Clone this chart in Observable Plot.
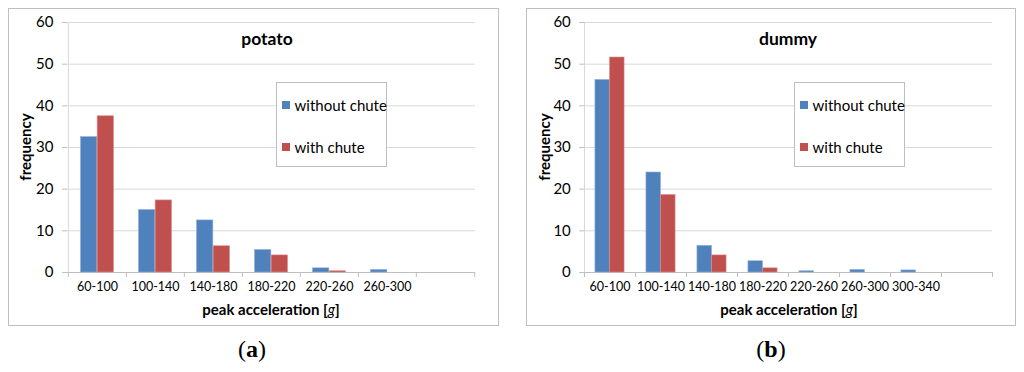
<!DOCTYPE html>
<html><head><meta charset="utf-8">
<script src="https://cdn.jsdelivr.net/npm/d3@7"></script>
<script src="https://cdn.jsdelivr.net/npm/@observablehq/plot@0.6"></script>
<style>
body{margin:0;background:#fff;}
#root{position:relative;width:1024px;height:372px;overflow:hidden;font-family:Lato,"Open Sans",sans-serif;color:#000;}
.panel{position:absolute;border:1px solid #bfbfbf;box-sizing:border-box;pointer-events:none;}
.chart{position:absolute;top:0;}
.title{position:absolute;transform:translate(-50%,-50%);font-weight:bold;font-size:17.5px;white-space:nowrap;}
.xlabel{position:absolute;transform:translate(-50%,-50%);font-weight:bold;font-size:15px;white-space:nowrap;}
.ylabel{position:absolute;transform:translate(-50%,-50%) rotate(-90deg);font-weight:bold;font-size:15px;white-space:nowrap;}
.caption{position:absolute;transform:translate(-50%,-50%);font-family:"Liberation Serif","DejaVu Serif",serif;font-size:24px;white-space:nowrap;}
.legend{position:absolute;background:#fff;border:1px solid #bfbfbf;box-sizing:border-box;}
.legend .item{position:absolute;left:5px;transform:translateY(-50%);font-size:15px;white-space:nowrap;display:flex;align-items:center;}
.legend .sw{display:inline-block;width:8px;height:8px;margin-right:5px;}
</style></head>
<body><div id="root"></div>
<script>
const seriesNames = ["without chute", "with chute"];
const seriesColors = ["#4f81bd", "#c0504d"];
const yTicks = [0, 10, 20, 30, 40, 50, 60];

const potatoCategories = ["60-100", "100-140", "140-180", "180-220", "220-260", "260-300"];
const potatoWithout = [32.5, 15.0, 12.5, 5.4, 1.0, 0.6];
const potatoWith = [37.5, 17.3, 6.3, 4.1, 0.3, 0];

const dummyCategories = ["60-100", "100-140", "140-180", "180-220", "220-260", "260-300", "300-340"];
const dummyWithout = [46.2, 24.0, 6.4, 2.7, 0.3, 0.6, 0.5];
const dummyWith = [51.6, 18.6, 4.1, 1.0, 0, 0, 0];

const root = document.getElementById("root");

function panel(cfg) {
  const W = 512, H = 372;
  const slots = [...cfg.cats, " "];
  const plotW = W - cfg.ml - cfg.mr;
  const slotW = plotW / slots.length;
  const groupW = slotW * 2 / 3.5;
  const side = (slotW - groupW) / 2;
  const rows = cfg.cats.map((c, i) => ({cat: c, a: cfg.without[i], b: cfg.withV[i]}));
  const chart = Plot.plot({
    width: W, height: H,
    marginLeft: cfg.ml, marginRight: cfg.mr, marginTop: 22, marginBottom: 100,
    style: {background: "transparent", overflow: "visible", fontFamily: "Lato, sans-serif", color: "#000"},
    x: {type: "band", domain: slots, padding: 0, axis: null},
    y: {domain: [0, 60], axis: null},
    marks: [
      Plot.gridY(yTicks, {stroke: "#d9d9d9", strokeOpacity: 1}),
      Plot.ruleX([slots[0]], {dx: -slotW / 2, y1: 0, y2: 60, stroke: "#d9d9d9"}),
      Plot.ruleY([0], {stroke: "#bfbfbf"}),
      Plot.ruleX(slots, {dx: -slotW / 2, y1: 0, y2: -1.2, stroke: "#bfbfbf"}),
      Plot.ruleX([slots[slots.length - 1]], {dx: slotW / 2, y1: 0, y2: -1.2, stroke: "#bfbfbf"}),
      Plot.barY(rows, {x: "cat", y: "a", fill: seriesColors[0], stroke: "#8fb0d8", strokeWidth: 0.6, insetLeft: side, insetRight: slotW / 2}),
      Plot.barY(rows, {x: "cat", y: "b", fill: seriesColors[1], stroke: "#dc8f8d", strokeWidth: 0.6, insetLeft: slotW / 2, insetRight: side}),
      Plot.axisY(yTicks, {tickSize: 5, tickPadding: 9, stroke: "#bfbfbf", fontSize: 15, label: null}),
      Plot.axisX(cfg.cats, {tickSize: 0, tickPadding: 10, fontSize: 12.5, label: null})
    ]
  });
  chart.classList.add("chart");
  chart.style.left = cfg.ox + "px";
  root.appendChild(chart);

  const add = (cls, html, x, y) => {
    const d = document.createElement("div");
    d.className = cls; d.innerHTML = html;
    d.style.left = x + "px"; d.style.top = y + "px";
    root.appendChild(d); return d;
  };
  const border = add("panel", "", cfg.px, 8);
  border.style.width = cfg.pw + "px"; border.style.height = "318px";
  add("title", cfg.title, cfg.tx, 38);
  add("ylabel", "frequency", cfg.yx, 147);
  add("xlabel", "peak acceleration [<i style='font-weight:normal'>g</i>]", cfg.xx, 309);
  add("caption", "(<b>" + cfg.caption + "</b>)", cfg.cx, 349);
  const lg = add("legend", "", cfg.lx, 82);
  lg.style.width = "111px"; lg.style.height = "85px";
  seriesNames.forEach((s, i) => {
    const it = document.createElement("div");
    it.className = "item";
    it.style.top = (i === 0 ? 21.5 : 64) + "px";
    it.innerHTML = `<span class="sw" style="background:${seriesColors[i]}"></span>${s}`;
    lg.appendChild(it);
  });
}

panel({cats: potatoCategories, without: potatoWithout, withV: potatoWith, ox: 0, ml: 67, mr: 37,
  px: 8, pw: 491, title: "potato", tx: 267, yx: 25, xx: 271, cx: 252, caption: "a", lx: 275.5});
panel({cats: dummyCategories, without: dummyWithout, withV: dummyWith, ox: 512, ml: 72.3, mr: 31.7,
  px: 526, pw: 490, title: "dummy", tx: 788, yx: 544, xx: 789, cx: 771, caption: "b", lx: 793.5});
</script>
</body></html>
